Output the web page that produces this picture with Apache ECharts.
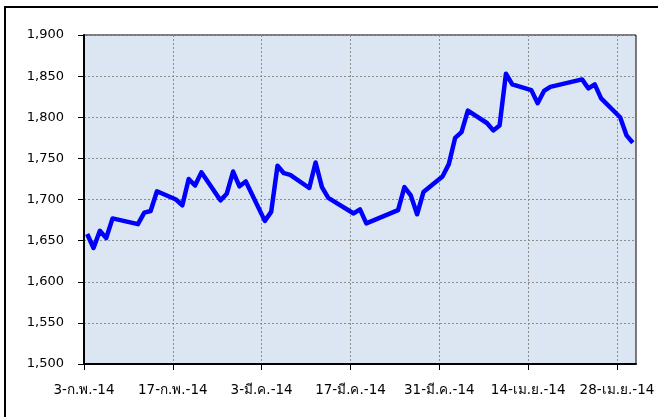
<!DOCTYPE html>
<html>
<head>
<meta charset="utf-8">
<script src="https://cdn.jsdelivr.net/npm/echarts@6/dist/echarts.min.js"></script>
<style>
  html, body { margin: 0; padding: 0; background: #fff; }
  #chart { width: 658px; height: 417px; }
</style>
</head>
<body>
<div id="chart"></div>
<script>
// trading days
var dates = [
    '2014-02-03', '2014-02-04', '2014-02-05', '2014-02-06', '2014-02-07',
    '2014-02-11', '2014-02-12', '2014-02-13', '2014-02-14',
    '2014-02-17', '2014-02-18', '2014-02-19', '2014-02-20', '2014-02-21',
    '2014-02-24', '2014-02-25', '2014-02-26', '2014-02-27', '2014-02-28',
    '2014-03-03', '2014-03-04', '2014-03-05', '2014-03-06', '2014-03-07',
    '2014-03-10', '2014-03-11', '2014-03-12', '2014-03-13',
    '2014-03-17', '2014-03-18', '2014-03-19',
    '2014-03-24', '2014-03-25', '2014-03-26', '2014-03-27', '2014-03-28',
    '2014-03-31', '2014-04-01', '2014-04-02', '2014-04-03', '2014-04-04',
    '2014-04-07', '2014-04-08', '2014-04-09', '2014-04-10', '2014-04-11',
    '2014-04-14', '2014-04-15', '2014-04-16', '2014-04-17',
    '2014-04-22', '2014-04-23', '2014-04-24', '2014-04-25',
    '2014-04-28', '2014-04-29', '2014-04-30'
];
var values = [
    1658, 1641, 1662, 1653, 1677,
    1670, 1684, 1686, 1710,
    1700, 1693, 1725, 1717, 1733,
    1699, 1707, 1734, 1716, 1722,
    1674, 1685, 1741, 1732, 1730,
    1714, 1745, 1715, 1702,
    1683, 1688, 1671,
    1687, 1715, 1705, 1682, 1709,
    1728, 1743, 1775, 1782, 1808,
    1793, 1784, 1790, 1853, 1840,
    1833, 1817, 1832, 1837,
    1846, 1835, 1840, 1823,
    1800, 1778, 1769
];
// x tick labels, every 14 days from the first date
var tickLabels = ['3-ก.พ.-14', '17-ก.พ.-14', '3-มี.ค.-14', '17-มี.ค.-14', '31-มี.ค.-14', '14-เม.ย.-14', '28-เม.ย.-14'];
var tickDays = [0, 14, 28, 42, 56, 70, 84];

var startMs = Date.parse('2014-02-03');
var fontFam = 'Tahoma, "DejaVu Sans", sans-serif';

// excel date axis puts each point in the middle of its day slot
var seriesData = [];
for (let i = 0; i < dates.length; i++) {
    var day = (Date.parse(dates[i]) - startMs) / 86400000;
    seriesData.push([day + 0.5, values[i]]);
}

var chartDom = document.getElementById('chart');
var chart = echarts.init(chartDom);
var option = {
    animation: false,
    backgroundColor: '#ffffff',
    graphic: [{
        type: 'rect',
        shape: { x: 5, y: 7, width: 700, height: 500 },
        style: { fill: 'none', stroke: '#000', lineWidth: 2 },
        silent: true
    }],
    grid: {
        left: 84, top: 35, right: 22, bottom: 53,
        show: true, backgroundColor: '#dce6f2', borderColor: '#000', borderWidth: 1
    },
    xAxis: {
        type: 'value',
        min: 0, max: 87, interval: 14,
        axisLine: { lineStyle: { color: '#000', width: 2 } },
        axisTick: { show: true, length: 6, lineStyle: { color: '#000' }, customValues: tickDays },
        axisLabel: {
            customValues: tickDays,
            margin: 19,
            color: '#000', fontSize: 13.5, fontFamily: fontFam,
            formatter: function (v) {
                var k = tickDays.indexOf(Math.round(v));
                return k >= 0 ? tickLabels[k] : '';
            }
        },
        splitLine: { show: true, lineStyle: { color: '#8c8c8c', type: [2, 2], width: 1 } }
    },
    yAxis: {
        type: 'value',
        min: 1500, max: 1900, interval: 50,
        axisLine: { show: true, lineStyle: { color: '#000', width: 2 } },
        axisTick: { show: true, length: 6, lineStyle: { color: '#000' } },
        axisLabel: {
            margin: 20,
            color: '#000', fontSize: 13, fontFamily: fontFam,
            formatter: function (v) { return v.toLocaleString('en-US'); }
        },
        splitLine: { show: true, lineStyle: { color: '#8c8c8c', type: [2, 2], width: 1 } }
    },
    series: [{
        type: 'line',
        data: seriesData,
        showSymbol: false,
        lineStyle: { color: '#0000ff', width: 4.5, join: 'round' }
    }]
};
chart.setOption(option);
</script>
</body>
</html>
